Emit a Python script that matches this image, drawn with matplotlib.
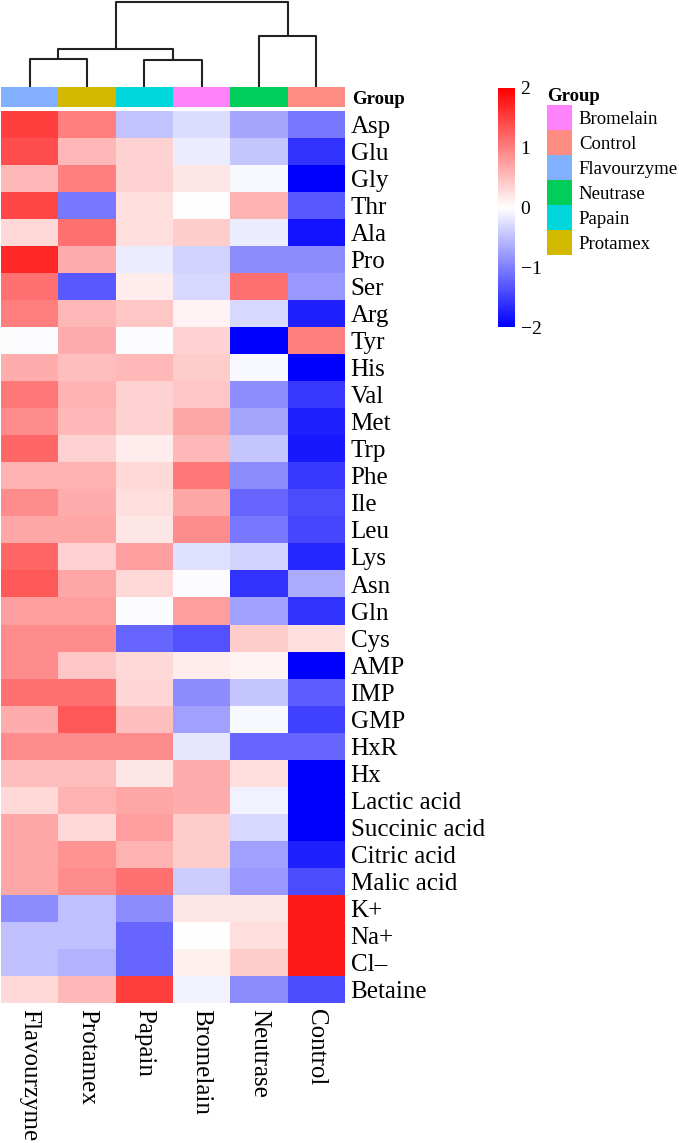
import numpy as np
import matplotlib.pyplot as plt
from matplotlib.colors import LinearSegmentedColormap, ListedColormap

plt.rcParams['font.family'] = ['Liberation Serif', 'DejaVu Serif']

# 列（已按聚类顺序排列）
samples = ['Flavourzyme', 'Protamex', 'Papain', 'Bromelain', 'Neutrase', 'Control']
rows = ['Asp', 'Glu', 'Gly', 'Thr', 'Ala', 'Pro', 'Ser', 'Arg', 'Tyr', 'His',
        'Val', 'Met', 'Trp', 'Phe', 'Ile', 'Leu', 'Lys', 'Asn', 'Gln', 'Cys',
        'AMP', 'IMP', 'GMP', 'HxR', 'Hx', 'Lactic acid', 'Succinic acid',
        'Citric acid', 'Malic acid', 'K+', 'Na+', 'Cl\u2013', 'Betaine']

# 标准化后的数值 (z-score)
values = [
    [1.50, 1.00, -0.47, -0.27, -0.70, -1.05],
    [1.40, 0.55, 0.35, -0.15, -0.45, -1.60],
    [0.55, 1.00, 0.35, 0.20, -0.05, -2.00],
    [1.45, -1.05, 0.25, 0.00, 0.60, -1.30],
    [0.30, 1.10, 0.25, 0.40, -0.15, -1.85],
    [1.70, 0.65, -0.15, -0.35, -0.90, -0.90],
    [1.10, -1.30, 0.15, -0.30, 1.10, -0.80],
    [1.00, 0.55, 0.45, 0.10, -0.30, -1.75],
    [-0.02, 0.65, -0.02, 0.35, -2.00, 1.00],
    [0.65, 0.50, 0.55, 0.40, -0.05, -2.00],
    [1.05, 0.58, 0.35, 0.45, -0.88, -1.55],
    [0.90, 0.55, 0.35, 0.70, -0.70, -1.75],
    [1.20, 0.35, 0.15, 0.55, -0.45, -1.80],
    [0.60, 0.60, 0.30, 1.05, -0.90, -1.55],
    [0.90, 0.65, 0.25, 0.70, -1.20, -1.40],
    [0.70, 0.70, 0.20, 0.90, -1.05, -1.45],
    [1.20, 0.35, 0.75, -0.25, -0.35, -1.70],
    [1.30, 0.70, 0.30, -0.02, -1.60, -0.65],
    [0.75, 0.75, -0.03, 0.75, -0.75, -1.60],
    [0.90, 0.90, -1.20, -1.35, 0.40, 0.25],
    [0.90, 0.45, 0.30, 0.15, 0.10, -2.00],
    [1.10, 1.10, 0.32, -0.90, -0.45, -1.28],
    [0.65, 1.30, 0.50, -0.75, -0.05, -1.50],
    [0.90, 0.90, 0.90, -0.20, -1.20, -1.20],
    [0.50, 0.50, 0.20, 0.65, 0.25, -2.00],
    [0.30, 0.60, 0.70, 0.65, -0.10, -2.00],
    [0.70, 0.30, 0.75, 0.40, -0.30, -2.00],
    [0.70, 0.85, 0.60, 0.40, -0.75, -1.75],
    [0.70, 0.90, 1.10, -0.40, -0.80, -1.40],
    [-0.90, -0.50, -0.90, 0.20, 0.20, 1.80],
    [-0.50, -0.50, -1.20, 0.00, 0.25, 1.80],
    [-0.50, -0.60, -1.20, 0.12, 0.40, 1.80],
    [0.30, 0.55, 1.50, -0.08, -0.90, -1.40],
]
values = np.array(values)

# 分组颜色
group_names = ['Bromelain', 'Control', 'Flavourzyme', 'Neutrase', 'Papain', 'Protamex']
group_colors = ['#FF82FA', '#FF8C82', '#82AFFF', '#00CD5A', '#00D7DC', '#D2B900']
color_of = dict(zip(group_names, group_colors))

# 列聚类 (左节点, 右节点, 高度)；0-5 为叶子
merges = [(0, 1, 28), (2, 3, 27), (6, 7, 38), (4, 5, 51), (8, 9, 85)]

W, H = 679, 1143
fig = plt.figure(figsize=(W / 100, H / 100), dpi=100)

def box(x0, y0, x1, y1):
    return [x0 / W, 1 - y1 / H, (x1 - x0) / W, (y1 - y0) / H]

cmap = LinearSegmentedColormap.from_list('bwr2', ['#0000FF', '#FFFFFF', '#FF0000'], N=256)

# 热图
ax = fig.add_axes(box(1, 111, 345, 1003))
im = ax.imshow(values, cmap=cmap, vmin=-2, vmax=2, aspect='auto', interpolation='nearest')
ax.set_xticks(range(len(samples)))
ax.set_xticklabels(samples, rotation=-90, fontsize=18, va='top', ha='center')
ax.set_yticks(range(len(rows)))
ax.set_yticklabels(rows, fontsize=18)
ax.yaxis.tick_right()
ax.tick_params(axis='x', length=0, pad=4)
ax.tick_params(axis='y', length=0, pad=4)
for s in ax.spines.values():
    s.set_visible(False)

# 分组注释条
ax_a = fig.add_axes(box(1, 87, 345, 107))
ann = np.arange(len(samples))[None, :]
ax_a.imshow(ann, cmap=ListedColormap([color_of[s] for s in samples]),
            aspect='auto', interpolation='nearest')
ax_a.set_xticks([])
ax_a.set_yticks([0])
ax_a.set_yticklabels(['Group'], fontsize=13.5, fontweight='bold')
ax_a.yaxis.tick_right()
ax_a.tick_params(length=0, pad=5)
for s in ax_a.spines.values():
    s.set_visible(False)

# 树状图
ax_d = fig.add_axes(box(1, 2, 345, 87))
pos = {i: i for i in range(len(samples))}
hgt = {i: 0 for i in range(len(samples))}
for k, (a, b, h) in enumerate(merges):
    node = len(samples) + k
    ax_d.plot([pos[a], pos[a], pos[b], pos[b]], [hgt[a], h, h, hgt[b]],
              color='#222222', lw=1.5, clip_on=False, solid_capstyle='butt')
    pos[node] = (pos[a] + pos[b]) / 2
    hgt[node] = h
ax_d.set_xlim(-0.5, len(samples) - 0.5)
ax_d.set_ylim(0, 85)
ax_d.axis('off')

# 颜色条
ax_c = fig.add_axes(box(498, 88, 515, 327))
cb = fig.colorbar(im, cax=ax_c, ticks=[-2, -1, 0, 1, 2])
cb.outline.set_visible(False)
ax_c.tick_params(length=0, labelsize=14, pad=4)

# 分组图例
ax_l = fig.add_axes(box(547, 105, 572, 255))
ax_l.imshow(np.arange(len(group_names))[:, None], cmap=ListedColormap(group_colors),
            aspect='auto', interpolation='nearest')
ax_l.set_xticks([])
ax_l.set_yticks(range(len(group_names)))
ax_l.set_yticklabels(group_names, fontsize=13.5)
ax_l.yaxis.tick_right()
ax_l.tick_params(length=0, pad=5)
for s in ax_l.spines.values():
    s.set_visible(False)
ax_l.set_title('Group', fontsize=13.5, fontweight='bold', loc='left', pad=3)

fig.savefig('out.png', dpi=100)
